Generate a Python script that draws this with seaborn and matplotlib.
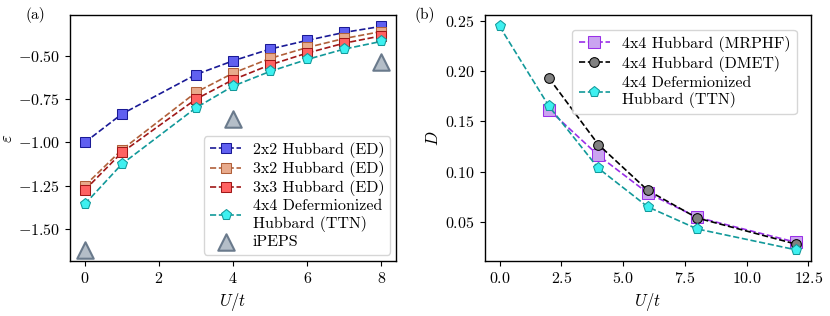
import numpy as np
import pandas as pd
import seaborn as sns
import matplotlib.pyplot as plt

# Data for panel (a): energy per site vs U/t
U_a = [0, 1, 3, 4, 5, 6, 7, 8]
e_2x2 = [-1.00, -0.836, -0.608, -0.529, -0.461, -0.411, -0.365, -0.330]
e_3x2 = [-1.25, -1.042, -0.711, -0.600, -0.515, -0.452, -0.400, -0.360]
e_3x3 = [-1.275, -1.058, -0.750, -0.638, -0.552, -0.484, -0.427, -0.385]
e_ttn = [-1.356, -1.125, -0.800, -0.675, -0.590, -0.521, -0.461, -0.417]
U_peps = [0, 4, 8]
e_peps = [-1.62, -0.865, -0.535]

# Data for panel (b): double occupancy vs U/t
U_b = [2, 4, 6, 8, 12]
d_mrphf = [0.1615, 0.116, 0.0785, 0.0544, 0.0295]
d_dmet = [0.193, 0.1268, 0.0812, 0.0537, 0.0277]
U_b_ttn = [0, 2, 4, 6, 8, 12]
d_ttn = [0.2446, 0.165, 0.1032, 0.0648, 0.0428, 0.022]

sns.set_style('ticks')
plt.rcParams['font.family'] = 'serif'
plt.rcParams['font.serif'] = ['cmr10', 'DejaVu Serif']
plt.rcParams['mathtext.fontset'] = 'cm'
plt.rcParams['axes.formatter.use_mathtext'] = True
plt.rcParams['font.size'] = 11.5
for k in ['axes.edgecolor', 'xtick.color', 'ytick.color', 'text.color', 'axes.labelcolor']:
    plt.rcParams[k] = 'black'

fig = plt.figure(figsize=(8.3, 3.16), dpi=100)
ax1 = fig.add_axes([0.0843, 0.174, 0.393, 0.778])
ax2 = fig.add_axes([0.584, 0.174, 0.393, 0.778])

sq = dict(marker='s', markersize=7, linestyle='--', linewidth=1.2)
sns.lineplot(x=U_a, y=e_2x2, ax=ax1, color='#1a1a96', markerfacecolor='#6060f0',
             markeredgecolor='#1a1a96', label='2x2 Hubbard (ED)', **sq)
sns.lineplot(x=U_a, y=e_3x2, ax=ax1, color='#b0603a', markerfacecolor='#e8aa8c',
             markeredgecolor='#b0603a', label='3x2 Hubbard (ED)', **sq)
sns.lineplot(x=U_a, y=e_3x3, ax=ax1, color='#a01818', markerfacecolor='#ff6262',
             markeredgecolor='#a01818', label='3x3 Hubbard (ED)', **sq)
sns.lineplot(x=U_a, y=e_ttn, ax=ax1, color='#12999a', marker='p', markersize=8,
             linestyle='--', linewidth=1.2, markerfacecolor='#3ef0f0',
             markeredgecolor='#12999a', label='4x4 Defermionized\nHubbard (TTN)')
sns.scatterplot(x=U_peps, y=e_peps, ax=ax1, marker='^', s=140, color='#b4bec8',
                edgecolor='#6a7a8c', linewidth=1.5, label='iPEPS', zorder=3)
ax1.set_xlabel('$U/t$', fontsize=12)
ax1.set_ylabel(r'$\varepsilon$', fontsize=12, labelpad=2)
ax1.set_yticks([-1.5, -1.25, -1.0, -0.75, -0.5])
ax1.set_xticks([0, 2, 4, 6, 8])
ax1.legend(loc='lower right', fontsize=11.5, framealpha=0.8, handlelength=2.0,
           borderpad=0.35, labelspacing=0.2, handletextpad=0.7, borderaxespad=0.4)

sns.lineplot(x=U_b, y=d_mrphf, ax=ax2, color='#9a30e8', marker='s', markersize=9,
             linestyle='--', linewidth=1.2, markerfacecolor='#caa4f0',
             markeredgecolor='#9a30e8', label='4x4 Hubbard (MRPHF)')
sns.lineplot(x=U_b, y=d_dmet, ax=ax2, color='black', marker='o', markersize=7,
             linestyle='--', linewidth=1.2, markerfacecolor='#808080',
             markeredgecolor='black', label='4x4 Hubbard (DMET)')
sns.lineplot(x=U_b_ttn, y=d_ttn, ax=ax2, color='#12999a', marker='p', markersize=8,
             linestyle='--', linewidth=1.2, markerfacecolor='#3ef0f0',
             markeredgecolor='#12999a', label='4x4 Defermionized\nHubbard (TTN)')
ax2.set_xlabel('$U/t$', fontsize=12)
ax2.set_ylabel('$D$', fontsize=12, labelpad=3)
ax2.set_yticks([0.05, 0.10, 0.15, 0.20, 0.25])
ax2.set_xticks([0.0, 2.5, 5.0, 7.5, 10.0, 12.5])
ax2.legend(loc='upper right', fontsize=11.5, framealpha=0.8, handlelength=2.0,
           borderpad=0.4, labelspacing=0.25, handletextpad=0.7, borderaxespad=0.9)

fig.text(35 / 830, 1 - 15 / 316, '(a)', fontsize=11, va='center', ha='center')
fig.text(425 / 830, 1 - 15 / 316, '(b)', fontsize=11, va='center', ha='center')

for ax in (ax1, ax2):
    ax.tick_params(direction='out', length=3.5, width=0.8, labelsize=11.5)
    for s in ax.spines.values():
        s.set_linewidth(1.0)

fig.savefig('out.png', dpi=100)
